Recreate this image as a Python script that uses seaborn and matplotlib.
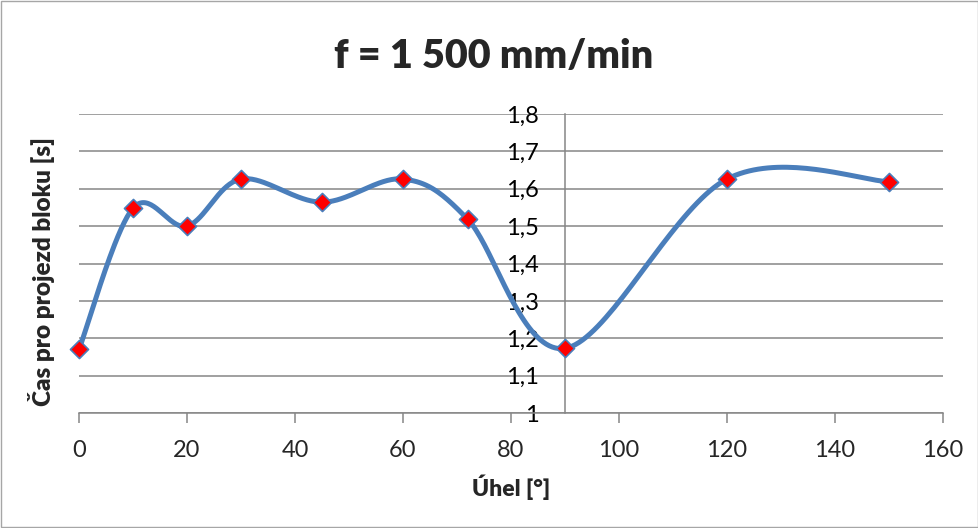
import numpy as np
import matplotlib
matplotlib.use("Agg")
import matplotlib.pyplot as plt
import seaborn as sns
import pandas as pd
from matplotlib.patches import Rectangle

uhel = [0, 10, 20, 30, 45, 60, 72, 90, 120, 150]
cas = [1.17, 1.548, 1.50, 1.626, 1.564, 1.626, 1.518, 1.173, 1.626, 1.619]
x_ticks = [0, 20, 40, 60, 80, 100, 120, 140, 160]
y_ticks = [1.0, 1.1, 1.2, 1.3, 1.4, 1.5, 1.6, 1.7, 1.8]
y_labels = ["1", "1,1", "1,2", "1,3", "1,4", "1,5", "1,6", "1,7", "1,8"]

sns.set_theme(style="white")
plt.rcParams['font.family'] = ['Lato', 'DejaVu Sans']

fig = plt.figure(figsize=(9.79, 5.28), dpi=100)
W, H = 979, 528
ax = fig.add_axes([79 / W, 1 - 413 / H, (943 - 79) / W, (413 - 114) / H])
ax.set_xlim(0, 160)
ax.set_ylim(1.0, 1.8)

# Excel-style smoothing (Bezier, Catmull-Rom tangents) in axes-normalized space
xs = (np.array(uhel) - 0) / 160 * (943 - 79)
ys = (np.array(cas) - 1.0) / 0.8 * (413 - 114)
P = np.column_stack([xs, ys])
n = len(P)
curve = []
t = np.linspace(0, 1, 40)
for i in range(n - 1):
    p0 = P[i - 1] if i > 0 else P[i]
    p1 = P[i]
    p2 = P[i + 1]
    p3 = P[i + 2] if i + 2 < n else P[i + 1]
    c1 = p1 + (p2 - p0) / 6
    c2 = p2 - (p3 - p1) / 6
    seg = ((1 - t)[:, None] ** 3) * p1 + 3 * ((1 - t)[:, None] ** 2) * t[:, None] * c1 \
        + 3 * (1 - t)[:, None] * (t[:, None] ** 2) * c2 + (t[:, None] ** 3) * p2
    curve.append(seg if i == 0 else seg[1:])
curve = np.vstack(curve)
cx = curve[:, 0] / (943 - 79) * 160
cy = curve[:, 1] / (413 - 114) * 0.8 + 1.0
df_curve = pd.DataFrame({"x": cx, "y": cy, "o": np.arange(len(cx))})
df_pts = pd.DataFrame({"Úhel": uhel, "Čas": cas})

sns.lineplot(data=df_curve, x="x", y="y", sort=False, estimator=None, ax=ax,
             color="#4A7EBB", linewidth=3.6, zorder=3, clip_on=False)
sns.scatterplot(data=df_pts, x="Úhel", y="Čas", ax=ax, marker="D", s=85,
                color="#FF0000", edgecolor="#4A7EBB", linewidth=1.2, zorder=4,
                clip_on=False)

ax.set_xticks(x_ticks)
ax.set_yticks(y_ticks)
ax.set_yticklabels(y_labels)
ax.grid(axis="y", color="#868686", linewidth=1.1)
ax.grid(axis="x", visible=False)
ax.set_axisbelow(True)
for s in ["top", "right"]:
    ax.spines[s].set_visible(False)
ax.spines["left"].set_position(("data", 90))
ax.spines["left"].set_color("#868686")
ax.spines["left"].set_linewidth(1.1)
ax.spines["bottom"].set_color("#868686")
ax.spines["bottom"].set_linewidth(1.1)
ax.tick_params(axis="y", length=0, pad=19, labelsize=17, colors="black")
ax.tick_params(axis="x", length=7, width=1.1, color="#868686", direction="out",
               pad=12.5, labelsize=17, bottom=True)
ax.set_xlabel("Úhel [°]", fontsize=16.5, fontweight="heavy", labelpad=10)
ax.set_ylabel("")
fig.text(42 / W, 1 - 272 / H, "Čas pro projezd bloku [s]", rotation=90,
         fontsize=17.5, fontweight="heavy", ha="center", va="center")
fig.text(494 / W, 1 - 57 / H, "f = 1 500 mm/min", fontsize=28.5, fontweight="heavy",
         ha="center", va="center")
fig.patches.append(Rectangle((1 / W, 1 / H), 1 - 2 / W, 1 - 2 / H, transform=fig.transFigure,
                             fill=False, edgecolor="#A6A6A6", linewidth=1.0))
fig.savefig("out.png", dpi=100)
